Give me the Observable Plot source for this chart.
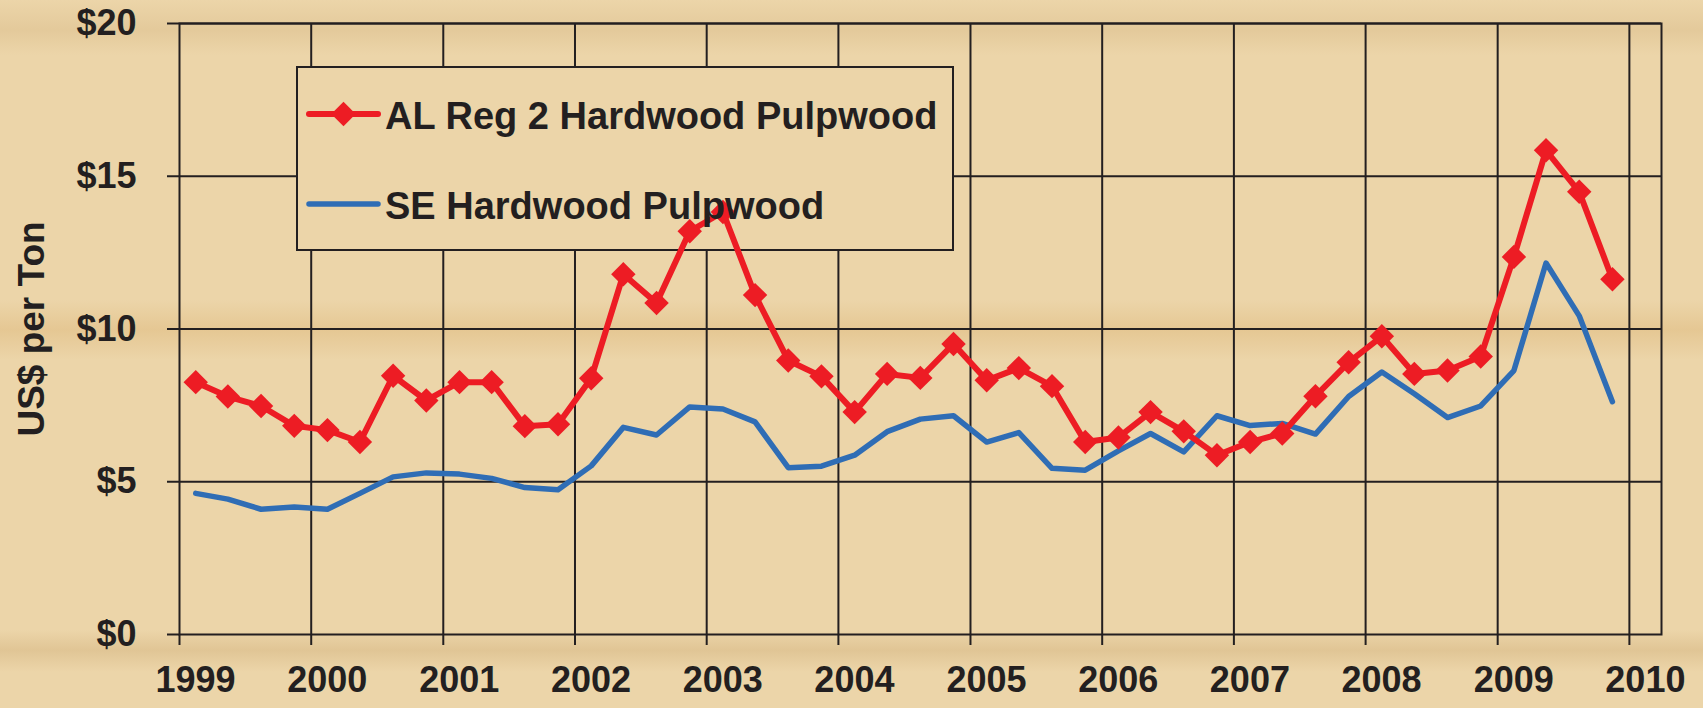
<!DOCTYPE html>
<html>
<head>
<meta charset="utf-8">
<script src="https://cdn.jsdelivr.net/npm/d3@7"></script>
<script src="https://cdn.jsdelivr.net/npm/@observablehq/plot@0.6"></script>
<style>
  html, body { margin: 0; padding: 0; }
  body {
    width: 1703px; height: 708px; overflow: hidden;
    background-color: #ECD5A9;
    background-image:
      linear-gradient(180deg,
        rgba(190,150,90,0) 0px, rgba(190,150,90,0.18) 30px, rgba(190,150,90,0) 55px,
        rgba(190,150,90,0) 300px, rgba(205,150,70,0.22) 330px, rgba(190,150,90,0) 360px,
        rgba(190,150,90,0) 630px, rgba(190,150,90,0.25) 650px, rgba(190,150,90,0) 672px);
  }
  #chart svg { display: block; }
</style>
</head>
<body>
<div id="chart"></div>
<script>
// ---- Data ----
const years = [1999, 2000, 2001, 2002, 2003, 2004, 2005, 2006, 2007, 2008, 2009];
const sampleMonths = [2, 5, 8, 11]; // quarterly observations (Feb, May, Aug, Nov)
const seriesNames = ["AL Reg 2 Hardwood Pulpwood", "SE Hardwood Pulpwood"];
const alReg2 = [
  8.26, 7.79, 7.48, 6.83,
  6.69, 6.30, 8.47, 7.66,
  8.26, 8.26, 6.82, 6.88,
  8.39, 11.79, 10.85, 13.20,
  13.83, 11.11, 8.97, 8.45,
  7.28, 8.53, 8.40, 9.51,
  8.32, 8.72, 8.13, 6.30,
  6.45, 7.28, 6.65, 5.87,
  6.30, 6.58, 7.80, 8.91,
  9.76, 8.53, 8.64, 9.10,
  12.36, 15.85, 14.49, 11.63
];
const seHardwood = [
  4.62, 4.43, 4.10, 4.17,
  4.10, 4.62, 5.16, 5.29,
  5.25, 5.11, 4.81, 4.74,
  5.52, 6.78, 6.53, 7.45,
  7.38, 6.96, 5.46, 5.51,
  5.87, 6.64, 7.05, 7.16,
  6.30, 6.61, 5.44, 5.38,
  6.01, 6.58, 5.98, 7.16,
  6.84, 6.91, 6.56, 7.79,
  8.59, 7.88, 7.10, 7.48,
  8.64, 12.16, 10.43, 7.62
];
const yTicks = [0, 5, 10, 15, 20];
const xTickYears = [1999, 2000, 2001, 2002, 2003, 2004, 2005, 2006, 2007, 2008, 2009, 2010];

// ---- Build table ----
const dates = years.flatMap(y => sampleMonths.map(m => new Date(Date.UTC(y, m - 1, 15))));
const rows = dates.map((d, i) => ({date: d, al: alReg2[i], se: seHardwood[i]}));
const xTicks = xTickYears.map(y => new Date(Date.UTC(y, 0, 1)));

const RED = "#ED1C24";
const BLUE = "#2F6DB5";
const INK = "#231F20";
const BG = "#ECD5A9";
const FONT = "'Liberation Sans', Arial, Helvetica, sans-serif";

// Legend box (drawn under the data, above gridlines)
function legendBox() {
  const g = d3.create("svg:g");
  g.append("rect")
    .attr("x", 297).attr("y", 67).attr("width", 656).attr("height", 183)
    .attr("fill", BG).attr("stroke", INK).attr("stroke-width", 2);
  return g.node();
}
// Legend keys and text (on top)
function legendItems() {
  const g = d3.create("svg:g").attr("font-family", FONT).attr("font-weight", "bold")
    .attr("text-anchor", "start");
  const items = [
    {name: seriesNames[0], color: RED, marker: true, y: 114, w: 6},
    {name: seriesNames[1], color: BLUE, marker: false, y: 204, w: 5.5}
  ];
  for (const it of items) {
    g.append("line").attr("x1", 309).attr("x2", 378).attr("y1", it.y).attr("y2", it.y)
      .attr("stroke", it.color).attr("stroke-width", it.w).attr("stroke-linecap", "round");
    if (it.marker) {
      g.append("path").attr("d", d3.symbol(d3.symbolDiamond2, Math.PI * 121)())
        .attr("transform", `translate(343.5,${it.y})`).attr("fill", it.color);
    }
    g.append("text").attr("x", 385).attr("y", it.y + 15).attr("font-size", 38)
      .attr("text-anchor", "start").attr("fill", INK).text(it.name);
  }
  return g.node();
}

const chart = Plot.plot({
  width: 1703,
  height: 708,
  marginLeft: 179,
  marginRight: 42,
  marginTop: 23,
  marginBottom: 74,
  style: {background: "transparent", fontFamily: FONT, fontWeight: "bold", color: INK, overflow: "visible"},
  x: {type: "utc", domain: [new Date(Date.UTC(1999, 0, 1)), new Date(Date.UTC(2010, 2, 31))]},
  y: {domain: [0, 20]},
  marks: [
    Plot.ruleY(yTicks.slice(1), {stroke: INK, strokeWidth: 2}),
    Plot.ruleX(xTicks.slice(1), {stroke: INK, strokeWidth: 2}),
    Plot.frame({stroke: INK, strokeWidth: 2}),
    Plot.axisY(yTicks, {
      tickSize: 12, tickPadding: 31, tickFormat: d => "$" + d,
      fontSize: 36, stroke: INK, strokeWidth: 2, label: null
    }),
    // x tick marks (no labels)
    Plot.axisX(xTicks, {
      tickSize: 11, tickFormat: () => "", stroke: INK, strokeWidth: 2, label: null
    }),
    // x labels, offset to the right as in the reference
    Plot.axisX(xTicks, {
      tickSize: 0, tickPadding: 32, tickFormat: d => d3.utcFormat("%Y")(d),
      fontSize: 36, dx: 16, label: null
    }),
    Plot.text(["US$ per Ton"], {
      frameAnchor: "left", rotate: -90, dx: -147, fontSize: 37, fontWeight: "bold",
      fill: INK, textAnchor: "middle", lineAnchor: "middle"
    }),
    legendBox,
    Plot.line(rows, {x: "date", y: "se", stroke: BLUE, strokeWidth: 5.5, strokeLinejoin: "round", strokeLinecap: "round"}),
    Plot.line(rows, {x: "date", y: "al", stroke: RED, strokeWidth: 6, strokeLinejoin: "round"}),
    Plot.dot(rows, {x: "date", y: "al", symbol: "diamond2", r: 11, fill: RED}),
    legendItems
  ]
});
document.getElementById("chart").appendChild(chart);
</script>
</body>
</html>
